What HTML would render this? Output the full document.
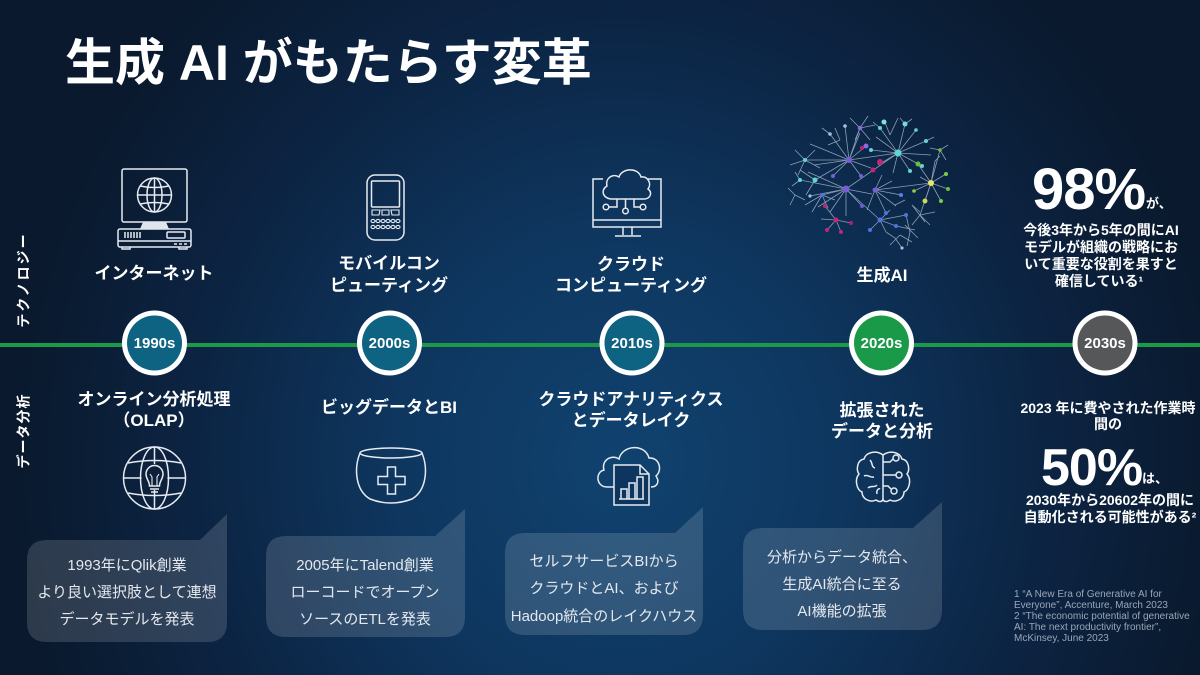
<!DOCTYPE html>
<html><head><meta charset="utf-8">
<style>
html,body{margin:0;padding:0;width:1200px;height:675px;overflow:hidden;background:#0b1d35}
svg{display:block}
text{font-family:"Liberation Sans","Noto Sans CJK JP",sans-serif}
</style></head><body>
<svg width="1200" height="675" viewBox="0 0 1200 675" xmlns="http://www.w3.org/2000/svg">
<defs>
<radialGradient id="bg" gradientUnits="userSpaceOnUse" cx="620" cy="460" r="640" gradientTransform="translate(620 460) scale(0.95 1) translate(-620 -460)">
<stop offset="0" stop-color="#10426f"/>
<stop offset="0.35" stop-color="#0e3760"/>
<stop offset="0.7" stop-color="#0c2443"/>
<stop offset="1" stop-color="#0a192d"/>
</radialGradient>
</defs>
<rect width="1200" height="675" fill="url(#bg)"/>

<!-- Title -->
<text x="65" y="80" font-size="50" font-weight="bold" fill="#ffffff">生成 AI がもたらす変革</text>

<!-- side labels -->
<text transform="translate(28.5,280) rotate(-90)" text-anchor="middle" font-size="14" font-weight="bold" fill="#ffffff" letter-spacing="2">テクノロジー</text>
<text transform="translate(28.5,431) rotate(-90)" text-anchor="middle" font-size="14" font-weight="bold" fill="#ffffff" letter-spacing="1">データ分析</text>

<!-- timeline -->
<rect x="0" y="343" width="1200" height="4" fill="#1b9a48"/>

<g>
<circle cx="154.5" cy="343" r="32.5" fill="#ffffff"/><circle cx="154.5" cy="343" r="27.5" fill="#0d6381"/>
<circle cx="389.5" cy="343" r="32.5" fill="#ffffff"/><circle cx="389.5" cy="343" r="27.5" fill="#0d6381"/>
<circle cx="632" cy="343" r="32.5" fill="#ffffff"/><circle cx="632" cy="343" r="27.5" fill="#0d6381"/>
<circle cx="881.5" cy="343" r="32.5" fill="#ffffff"/><circle cx="881.5" cy="343" r="27.5" fill="#1a9a48"/>
<circle cx="1105" cy="343" r="32.5" fill="#ffffff"/><circle cx="1105" cy="343" r="27.5" fill="#555759"/>
</g>
<g font-size="15" font-weight="bold" fill="#ffffff" text-anchor="middle">
<text x="154.5" y="348">1990s</text>
<text x="389.5" y="348">2000s</text>
<text x="632" y="348">2010s</text>
<text x="881.5" y="348">2020s</text>
<text x="1105" y="348">2030s</text>
</g>

<!-- top icons -->
<g fill="none" stroke="#e6ebf1" stroke-width="1.5">
<!-- computer -->
<rect x="122" y="169" width="65" height="53" rx="2"/>
<circle cx="154.5" cy="195" r="17"/>
<ellipse cx="154.5" cy="195" rx="7.5" ry="17"/>
<line x1="137.5" y1="195" x2="171.5" y2="195"/>
<line x1="154.5" y1="178" x2="154.5" y2="212"/>
<path d="M140,186 Q154.5,189 169,186 M140,204 Q154.5,201 169,204"/>
<rect x="118" y="229" width="73" height="18" rx="2"/>
<rect x="167" y="232" width="18" height="6" rx="1"/>
<path d="M125,232v6 M128,232v6 M131,232v6 M134,232v6 M137,232v6 M140,232v6"/>
<path d="M118,241 H191"/>
<path d="M174,244h3 M179,244h3 M184,244h3"/>
<path d="M122,247v2 h8 v-2 M179,247v2 h8 v-2"/>
<!-- phone -->
<rect x="367" y="175" width="37" height="65" rx="8"/>
<rect x="371.5" y="181" width="28" height="26" rx="1"/>
<path d="M372,210 h8 l-1,5 h-7 z M382,210 h7 v5 h-7z M391,210 h8 v5 h-7z" stroke-width="1.1"/>
<g stroke-width="1.1">
<ellipse cx="373" cy="221" rx="2" ry="1.6"/><ellipse cx="378" cy="221" rx="2" ry="1.6"/><ellipse cx="383" cy="221" rx="2" ry="1.6"/><ellipse cx="388" cy="221" rx="2" ry="1.6"/><ellipse cx="393" cy="221" rx="2" ry="1.6"/><ellipse cx="398" cy="221" rx="2" ry="1.6"/>
<ellipse cx="373" cy="227" rx="2" ry="1.6"/><ellipse cx="378" cy="227" rx="2" ry="1.6"/><ellipse cx="383" cy="227" rx="2" ry="1.6"/><ellipse cx="388" cy="227" rx="2" ry="1.6"/><ellipse cx="393" cy="227" rx="2" ry="1.6"/><ellipse cx="398" cy="227" rx="2" ry="1.6"/>
</g>
<!-- cloud monitor -->
<path d="M603,179 H593 V227 H661 V179 H648"/>
<line x1="593" y1="220" x2="661" y2="220"/>
<path d="M623,227 V235 M632,227 V235 M615,236 H641"/>
<path d="M612,199 C603,199 600,190 607,186 C605,178 613,173 619,177 C622,168 638,167 641,177 C648,176 652,184 648,189 C653,193 650,199 644,199 Z"/>
<path d="M617,199 V207 H609 M625.5,199 V208 M634,199 V207 H640"/>
<circle cx="606" cy="207" r="2.8"/>
<circle cx="625.5" cy="211" r="2.8"/>
<circle cx="643" cy="207" r="2.8"/>
</g>
<path d="M143,222 L166,222 L169,229 L140,229 Z" fill="#dfe5ec"/>

<!-- brain network -->
<g stroke="#c2d0e0" stroke-width="0.8" fill="none" opacity="0.7">
<path d="M898,153 L880,128 M898,153 L905,124 M898,153 L916,130 M898,153 L926,141 M898,153 L931,155 M898,153 L922,166 M898,153 L910,171 M898,153 L893,173 M898,153 L878,165 M898,153 L871,150 M898,153 L876,137 M905,124 L900,118 M905,124 L912,119 M926,141 L934,137 M880,128 L873,122"/>
<path d="M849,160 L830,134 M849,160 L845,126 M849,160 L860,133 M849,160 L866,146 M849,160 L820,148 M849,160 L814,165 M849,160 L833,176 M849,160 L861,176 M849,160 L871,168 M830,134 L822,128 M820,148 L810,144"/>
<path d="M846,189 L800,180 M846,189 L810,196 M846,189 L818,207 M846,189 L830,212 M846,189 L846,216 M846,189 L862,206 M846,189 L872,194 M846,189 L808,172 M800,180 L792,186 M800,180 L795,172 M815,180 L800,170 M815,180 L806,195"/>
<path d="M875,190 L882,175 M875,190 L892,181 M875,190 L901,195 M875,190 L896,206 M875,190 L886,213 M875,190 L867,210"/>
<path d="M931,183 L918,164 M931,183 L935,161 M931,183 L946,174 M931,183 L948,189 M931,183 L941,201 M931,183 L925,201 M931,183 L914,191 M931,183 L920,177 M935,161 L940,156"/>
<path d="M836,220 L825,206 M836,220 L821,219 M836,220 L827,230 M836,220 L841,232 M836,220 L851,223"/>
<path d="M880,220 L870,230 M880,220 L886,232 M880,220 L896,226 M880,220 L890,210 M880,220 L906,215 M886,232 L895,238 L902,248 M906,215 L910,232 L907,246 M896,226 L915,230 M912,205 L925,222 M912,205 L920,212"/>
<path d="M805,160 L790,165 M805,160 L795,150 M805,160 L815,150 M805,160 L820,168 M805,160 L798,175 M822,195 L805,205 M822,195 L812,212 M822,195 L828,208 M822,195 L835,200 M795,195 L788,188 M795,195 L790,205 M795,195 L805,200"/>
<path d="M860,128 L850,118 M860,128 L868,116 M860,128 L875,125 M860,128 L855,140 M860,128 L870,140 M890,135 L884,120 M890,135 L898,118 M840,140 L828,145 M840,140 L835,128"/>
<path d="M940,150 L948,145 M940,150 L946,160 M940,150 L930,148 M920,215 L935,212 M920,215 L930,225 M920,215 L912,225 M900,235 L890,245 M900,235 L912,242 M895,205 L905,200 M905,225 L918,238"/>
<path d="M849,160 L898,153 M846,189 L898,153 M875,190 L931,183 M846,189 L880,220 M849,160 L815,180 M805,160 L849,160 M822,195 L846,189 M860,128 L849,160 M940,150 L931,183 M920,215 L931,183"/>
</g>
<g>
<circle cx="898" cy="153" r="3.5" fill="#5fd6d2"/><circle cx="880" cy="128" r="2" fill="#5fd6d2"/><circle cx="905" cy="124" r="2.5" fill="#6fe0d8"/><circle cx="926" cy="141" r="2" fill="#5fd6d2"/><circle cx="922" cy="166" r="2" fill="#5fd6d2"/><circle cx="884" cy="122" r="2.5" fill="#7fe3dc"/><circle cx="871" cy="150" r="2" fill="#5fd6d2"/><circle cx="815" cy="180" r="2.5" fill="#5fd6d2"/><circle cx="910" cy="171" r="2" fill="#5fd6d2"/><circle cx="916" cy="130" r="1.8" fill="#5fd6d2"/>
<circle cx="849" cy="160" r="3" fill="#7a5cd6"/><circle cx="846" cy="189" r="3.5" fill="#7a5cd6"/><circle cx="866" cy="146" r="2.5" fill="#8a6ae0"/><circle cx="875" cy="190" r="2.5" fill="#7a5cd6"/><circle cx="861" cy="176" r="2" fill="#7a5cd6"/><circle cx="833" cy="176" r="2" fill="#7a5cd6"/><circle cx="862" cy="206" r="2" fill="#6a5ad0"/><circle cx="860" cy="128" r="2.2" fill="#8a6ae0"/>
<circle cx="880" cy="162" r="3" fill="#c4247a"/><circle cx="873" cy="170" r="2.5" fill="#c4247a"/><circle cx="862" cy="148" r="2" fill="#c4247a"/><circle cx="836" cy="220" r="2.5" fill="#c4247a"/><circle cx="825" cy="206" r="2" fill="#c4247a"/><circle cx="827" cy="230" r="2" fill="#c4247a"/><circle cx="841" cy="232" r="2" fill="#c4247a"/><circle cx="851" cy="223" r="2" fill="#b02070"/>
<circle cx="931" cy="183" r="3" fill="#e3e86a"/><circle cx="925" cy="201" r="2.5" fill="#c8dc5a"/><circle cx="946" cy="174" r="2" fill="#7ccc44"/><circle cx="941" cy="201" r="2" fill="#7ccc44"/><circle cx="918" cy="164" r="2.5" fill="#6fbf3a"/><circle cx="948" cy="189" r="2" fill="#6fbf3a"/><circle cx="914" cy="191" r="1.8" fill="#8fd13f"/><circle cx="940" cy="150" r="1.8" fill="#6fbf3a"/>
<circle cx="880" cy="220" r="2.5" fill="#4d74e0"/><circle cx="870" cy="230" r="2" fill="#4d74e0"/><circle cx="896" cy="226" r="2" fill="#4d74e0"/><circle cx="906" cy="215" r="2" fill="#4d74e0"/><circle cx="886" cy="213" r="2" fill="#4d74e0"/><circle cx="901" cy="195" r="2" fill="#5a80e6"/><circle cx="800" cy="180" r="2" fill="#5fd6d2"/><circle cx="805" cy="160" r="2" fill="#5fd6d2"/><circle cx="822" cy="195" r="2" fill="#4d74e0"/><circle cx="830" cy="134" r="1.8" fill="#a8c0d8"/><circle cx="845" cy="126" r="1.8" fill="#a8c0d8"/><circle cx="810" cy="196" r="1.6" fill="#a8c0d8"/><circle cx="902" cy="248" r="1.6" fill="#a8c0d8"/>
</g>

<!-- top labels -->
<g font-size="17" font-weight="bold" fill="#ffffff" text-anchor="middle">
<text x="154" y="279">インターネット</text>
<text x="389" y="269">モバイルコン</text>
<text x="389" y="291">ピューティング</text>
<text x="631" y="270">クラウド</text>
<text x="631" y="291">コンピューティング</text>
<text x="882" y="281">生成AI</text>
<text x="154" y="405">オンライン分析処理</text>
<text x="154" y="426">（OLAP）</text>
<text x="389" y="413">ビッグデータとBI</text>
<text x="631" y="405">クラウドアナリティクス</text>
<text x="631" y="426">とデータレイク</text>
<text x="882" y="416">拡張された</text>
<text x="882" y="437">データと分析</text>
</g>

<!-- bottom icons -->
<g fill="none" stroke="#e6ebf1" stroke-width="1.5">
<!-- globe bulb -->
<circle cx="154.5" cy="478" r="31"/>
<ellipse cx="154.5" cy="478" rx="14" ry="31"/>
<path d="M124,478 H185"/>
<path d="M128,463 Q154.5,458 181,463 M128,493 Q154.5,498 181,493"/>
<line x1="154.5" y1="447" x2="154.5" y2="509"/>
<circle cx="154.5" cy="477" r="13" fill="#0c2139" stroke="none"/>
<path d="M149.5,486 C149.5,481 146,479 146,474 A8.5,8.5 0 1 1 163,474 C163,479 159.5,481 159.5,486 Z"/>
<path d="M150,489 H159 M151,492 H158"/>
<path d="M152,486 V477 L150,474 M157,486 V477 L159,474" stroke-width="1.1"/>
<!-- bowl -->
<ellipse cx="391" cy="453" rx="31" ry="5"/>
<path d="M360,453 C354,468 355,490 370,499 Q391,507 412,499 C427,490 428,468 422,453"/>
<path d="M387.5,467 h8 v9.5 h9.5 v8 h-9.5 v9.5 h-8 v-9.5 h-9.5 v-8 h9.5 z"/>
<!-- cloud doc -->
<path d="M614,487 H607 C596,487 595,472 604,470 C601,460 612,454 619,459 C622,445 645,443 649,458 C659,457 663,470 656,476 C660,482 657,487 651,487"/>
<path d="M614,465 H640 L649,474 V505 H614 Z" fill="#0e3560"/>
<path d="M640,465 V474 H649"/>
<path d="M619,499 H644 M621,499 V489 H627 V499 M629,499 V483 H635 V499 M637,499 V477 H643 V499"/>
<!-- brain -->
<path d="M883,455 C876,450 866,452 864,459 C857,460 856,470 859,474 C854,480 857,490 862,492 C862,499 870,503 876,500 C880,503 883,501 883,499 Z"/>
<path d="M883,455 C890,450 900,452 902,459 C909,460 910,470 907,474 C912,480 909,490 904,492 C904,499 896,503 890,500 C886,503 883,501 883,499"/>
<path d="M883,462 H890 L893,459 M883,475 H896 M883,486 H888 L891,489"/>
<circle cx="896" cy="458" r="3"/><circle cx="899" cy="475" r="3"/><circle cx="894" cy="491" r="3"/>
<path d="M870,460 C873,463 871,467 875,468 M864,476 C868,474 870,478 874,477 M868,488 C871,485 875,488 877,485 M877,494 C876,490 879,488 880,489"/>
</g>

<!-- bubbles -->
<g fill="#ffffff" fill-opacity="0.145">
<path d="M47,540 H200 L227,514 V622 Q227,642 207,642 H47 Q27,642 27,622 V560 Q27,540 47,540 Z"/>
<path d="M286,536 H435 L465,509 V617 Q465,637 445,637 H286 Q266,637 266,617 V556 Q266,536 286,536 Z"/>
<path d="M525,533 H675 L703,507 V615 Q703,635 683,635 H525 Q505,635 505,615 V553 Q505,533 525,533 Z"/>
<path d="M763,528 H913 L942,502 V610 Q942,630 922,630 H763 Q743,630 743,610 V548 Q743,528 763,528 Z"/>
</g>
<g font-size="15" fill="#e4e8ee" text-anchor="middle">
<text x="127" y="570">1993年にQlik創業</text>
<text x="127" y="597">より良い選択肢として連想</text>
<text x="127" y="624">データモデルを発表</text>
<text x="365" y="570">2005年にTalend創業</text>
<text x="365" y="597">ローコードでオープン</text>
<text x="365" y="624">ソースのETLを発表</text>
<text x="604" y="566">セルフサービスBIから</text>
<text x="604" y="593">クラウドとAI、および</text>
<text x="604" y="621">Hadoop統合のレイクハウス</text>
<text x="842" y="562">分析からデータ統合、</text>
<text x="842" y="589">生成AI統合に至る</text>
<text x="842" y="616">AI機能の拡張</text>
</g>

<!-- right column -->
<g fill="#ffffff" font-weight="bold">
<text x="1032" y="209" font-size="58" letter-spacing="-1">98%</text>
<text x="1146" y="208" font-size="13">が、</text>
<g font-size="14" text-anchor="middle">
<text x="1101" y="235">今後3年から5年の間にAI</text>
<text x="1101" y="252">モデルが組織の戦略にお</text>
<text x="1101" y="269">いて重要な役割を果すと</text>
<text x="1099" y="286">確信している¹</text>
<text x="1108" y="413">2023 年に費やされた作業時</text>
<text x="1108" y="429">間の</text>
<text x="1110" y="505">2030年から20602年の間に</text>
<text x="1110" y="522">自動化される可能性がある²</text>
</g>
<text x="1041" y="485" font-size="52" letter-spacing="-1">50%</text>
<text x="1142" y="483" font-size="13">は、</text>
</g>

<!-- footnotes -->
<g font-size="10" fill="#9aa6b8">
<text x="1014" y="597">1 “A New Era of Generative AI for</text>
<text x="1014" y="608">Everyone”, Accenture, March 2023</text>
<text x="1014" y="619">2 “The economic potential of generative</text>
<text x="1014" y="630">AI: The next productivity frontier”,</text>
<text x="1014" y="641">McKinsey, June 2023</text>
</g>
</svg>
</body></html>
